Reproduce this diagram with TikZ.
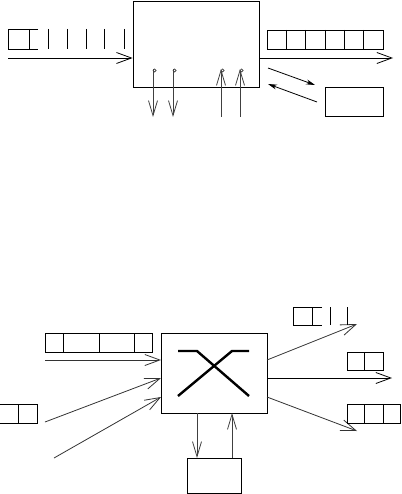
\documentclass[tikz,border=0pt]{standalone}
\usetikzlibrary{arrows.meta}
\begin{document}
\begin{tikzpicture}[x=1pt,y=-1pt,line width=0.8pt,
  box/.style={draw,rectangle,inner sep=0pt,line width=0.8pt},
  arr/.style={-{Straight Barb[length=15pt,width=11pt,line width=0.8pt]}},
  varr/.style={draw=black!75,-{Straight Barb[length=15pt,width=9pt,line width=0.8pt]}},
  farr/.style={-{Stealth[length=9pt,width=5pt]}},
  qline/.style={line width=0.8pt},
  xline/.style={line width=2.4pt}]
\useasboundingbox (0,0) rectangle (401,494);
% ---------- top diagram ----------
\node[box,minimum width=126pt,minimum height=86pt] (tb) at (196,44) {};
\node[box,minimum width=58pt,minimum height=29pt] (ts) at (354,101.5) {};
% input queue
\draw[qline] (38,29) -- (8,29) -- (8,49) -- (38,49);
\draw[qline] (29,29) -- (29,49);
\foreach \x in {48,67,86,104,124} \draw[qline] (\x,29) -- (\x,49);
% output queue
\draw[qline] (267,30) rectangle (383,49);
\foreach \x in {286.3,305.7,325,344.3,363.7} \draw[qline] (\x,30) -- (\x,49);
% main arrows
\coordinate (tin) at (8,58);
\coordinate (tout) at (393,58);
\draw[arr] (tin) -- (tb.west |- tin);
\draw[arr] (tb.east |- tout) -- (tout);
% exchange with small box
\coordinate (e1a) at (268,68); \coordinate (e1b) at (315,85);
\coordinate (e2a) at (317,102); \coordinate (e2b) at (268,84);
\draw[farr] (e1a) -- (e1b);
\draw[farr] (e2a) -- (e2b);
% vertical arrows
\foreach \x/\n in {153/d1,173/d2} {
  \coordinate (\n a) at (\x,69); \coordinate (\n b) at (\x,117);
  \draw[varr] (\n a) -- (\n b);
  \draw[black!75,line width=0.7pt] (\x+1.6,70.5) circle (1.6pt);
}
\foreach \x/\n in {221/u1,240/u2} {
  \coordinate (\n a) at (\x,117); \coordinate (\n b) at (\x,69);
  \draw[varr] (\n a) -- (\n b);
  \draw[black!75,line width=0.7pt] (\x+1.6,70.5) circle (1.6pt);
}
% ---------- bottom diagram ----------
\node[box,minimum width=106pt,minimum height=80pt] (bb) at (214,373) {};
\node[box,minimum width=54pt,minimum height=35pt] (bs) at (214,475.5) {};
% cross symbol
\draw[xline] (178,351) -- (197,351) -- (249,396);
\draw[xline] (249,351) -- (232,351) -- (178,396);
% input queue top-left
\draw[qline] (45,333) rectangle (152,352);
\foreach \x in {63,99,134} \draw[qline] (\x,333) -- (\x,352);
% small queue left
\draw[qline] (0,404) -- (37,404) -- (37,423) -- (0,423);
\draw[qline] (18,404) -- (18,423);
% inputs
\coordinate (i1) at (45,360); \coordinate (i2) at (45,422); \coordinate (i3) at (54,458);
\coordinate (j1) at (161,360); \coordinate (j2) at (161,378); \coordinate (j3) at (161,397);
\draw[arr,draw=black!80] (i1) -- (j1);
\draw[arr,draw=black!80] (i2) -- (j2);
\draw[arr,draw=black!80] (i3) -- (j3);
% outputs
\coordinate (o0a) at (267,360); \coordinate (o0b) at (267,378); \coordinate (o0c) at (267,397);
\coordinate (o1) at (357,324); \coordinate (o2) at (392,378); \coordinate (o3) at (357,431);
\draw[arr,draw=black!80] (o0a) -- (o1);
\draw[arr] (o0b) -- (o2);
\draw[arr,draw=black!80] (o0c) -- (o3);
% output queues
\draw[qline] (322,307) -- (293,307) -- (293,325) -- (322,325);
\draw[qline] (312,307) -- (312,325);
\draw[qline] (330,307) -- (330,325);
\draw[qline] (347,307) -- (347,325);
\draw[qline] (347,352) rectangle (383,370);
\draw[qline] (364,352) -- (364,370);
\draw[qline] (347,404) rectangle (400,423);
\draw[qline] (364,404) -- (364,423);
\draw[qline] (383,404) -- (383,423);
% exchange with small box
\coordinate (b1a) at (197,413); \coordinate (b1b) at (197,458);
\coordinate (b2a) at (232,458); \coordinate (b2b) at (232,413);
\draw[varr] (b1a) -- (b1b);
\draw[varr] (b2a) -- (b2b);
\end{tikzpicture}
\end{document}
